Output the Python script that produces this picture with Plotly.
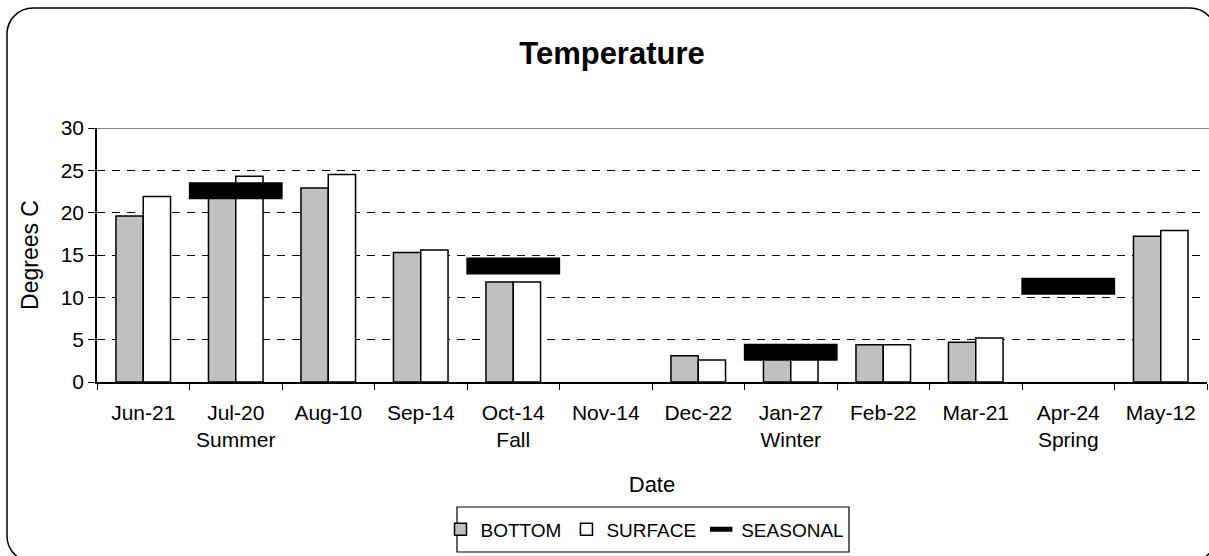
import plotly.graph_objects as go

dates = ["Jun-21", "Jul-20", "Aug-10", "Sep-14", "Oct-14", "Nov-14",
         "Dec-22", "Jan-27", "Feb-22", "Mar-21", "Apr-24", "May-12"]
seasons = ["", "Summer", "", "", "Fall", "", "", "Winter", "", "", "Spring", ""]
bottom = [19.6, 22.5, 22.9, 15.3, 11.8, None, 3.1, 2.8, 4.4, 4.7, None, 17.2]
surface = [21.9, 24.3, 24.5, 15.6, 11.8, None, 2.6, 2.8, 4.4, 5.2, None, 17.9]
seasonal = [None, 22.6, None, None, 13.7, None, None, 3.5, None, None, 11.3, None]

tick_text = [d + ("<br>" + s if s else "") for d, s in zip(dates, seasons)]

W, H = 1209, 556
ML, MR, MT, MB = 97, 2, 128, 174
PW, PH = W - ML - MR, H - MT - MB


def px(x):
    return (x - ML) / PW


def py(y):
    return (H - MB - y) / PH


FONT = "Arial, Liberation Sans, sans-serif"

fig = go.Figure()
fig.add_trace(go.Bar(x=dates, y=bottom, name="BOTTOM",
                     marker=dict(color="#C0C0C0", line=dict(color="black", width=1.5))))
fig.add_trace(go.Bar(x=dates, y=surface, name="SURFACE",
                     marker=dict(color="white", line=dict(color="black", width=1.5))))
fig.add_trace(go.Scatter(x=dates, y=seasonal, name="SEASONAL", mode="markers",
                         marker=dict(symbol="line-ew", size=67, color="black",
                                     line=dict(color="black", width=17))))

# rounded frame
x0, y0, x1, y1, r = 7, 8, 1216, 562, 26
k = 0.5523 * r


def P(x, y):
    return f"{px(x):.5f},{py(y):.5f}"


path = (
    f"M {P(x0 + r, y0)} L {P(x1 - r, y0)} "
    f"C {P(x1 - r + k, y0)} {P(x1, y0 + r - k)} {P(x1, y0 + r)} "
    f"L {P(x1, y1 - r)} "
    f"C {P(x1, y1 - r + k)} {P(x1 - r + k, y1)} {P(x1 - r, y1)} "
    f"L {P(x0 + r, y1)} "
    f"C {P(x0 + r - k, y1)} {P(x0, y1 - r + k)} {P(x0, y1 - r)} "
    f"L {P(x0, y0 + r)} "
    f"C {P(x0, y0 + r - k)} {P(x0 + r - k, y0)} {P(x0 + r, y0)} Z"
)

shapes = [
    dict(type="path", xref="paper", yref="paper", path=path,
         line=dict(color="black", width=1.5), layer="above"),
    # top border of plot area
    dict(type="line", xref="paper", yref="y", x0=0, x1=1.01, y0=30, y1=30,
         line=dict(color="#808080", width=2), layer="above"),
    # legend box
    dict(type="rect", xref="paper", yref="paper",
         x0=px(457), x1=px(849), y0=py(507), y1=py(552),
         line=dict(color="black", width=1.2), layer="above"),
]

fig.update_layout(
    width=W, height=H,
    margin=dict(l=ML, r=MR, t=MT, b=MB),
    paper_bgcolor="white", plot_bgcolor="white",
    font=dict(family=FONT, color="black", size=20),
    title=dict(text="<b>Temperature</b>", x=612 / W, xanchor="center",
               y=1 - 53 / H, yanchor="middle", font=dict(size=31)),
    barmode="group", bargap=0.41, bargroupgap=0,
    showlegend=True,
    legend=dict(orientation="h", x=px(645), xanchor="center", y=py(529.5), yanchor="middle",
                bgcolor="rgba(0,0,0,0)", borderwidth=0, font=dict(size=19),
                itemwidth=30, traceorder="normal"),
    shapes=shapes,
)

fig.update_xaxes(
    type="category", tickvals=dates, ticktext=tick_text, range=[-0.5, 11.5],
    showline=True, linecolor="black", linewidth=1.5,
    ticks="outside", ticklen=6, tickcolor="black", tickson="boundaries",
    ticklabelstandoff=11,
    showgrid=False, tickfont=dict(size=21),
    title=dict(text="Date", font=dict(size=22), standoff=26),
)
fig.update_yaxes(
    range=[0, 30], dtick=5, tickvals=[0, 5, 10, 15, 20, 25, 30],
    showline=True, linecolor="black", linewidth=1.5,
    ticks="outside", ticklen=7, tickcolor="black",
    showgrid=True, gridcolor="black", gridwidth=1, griddash="8px,7px",
    zeroline=False, tickfont=dict(size=21),
    title=dict(text="Degrees C", font=dict(size=23), standoff=16),
)

fig.write_html("out.html", config={"displayModeBar": False},
               post_script="document.body.style.margin='0px';document.body.style.overflow='hidden';")
